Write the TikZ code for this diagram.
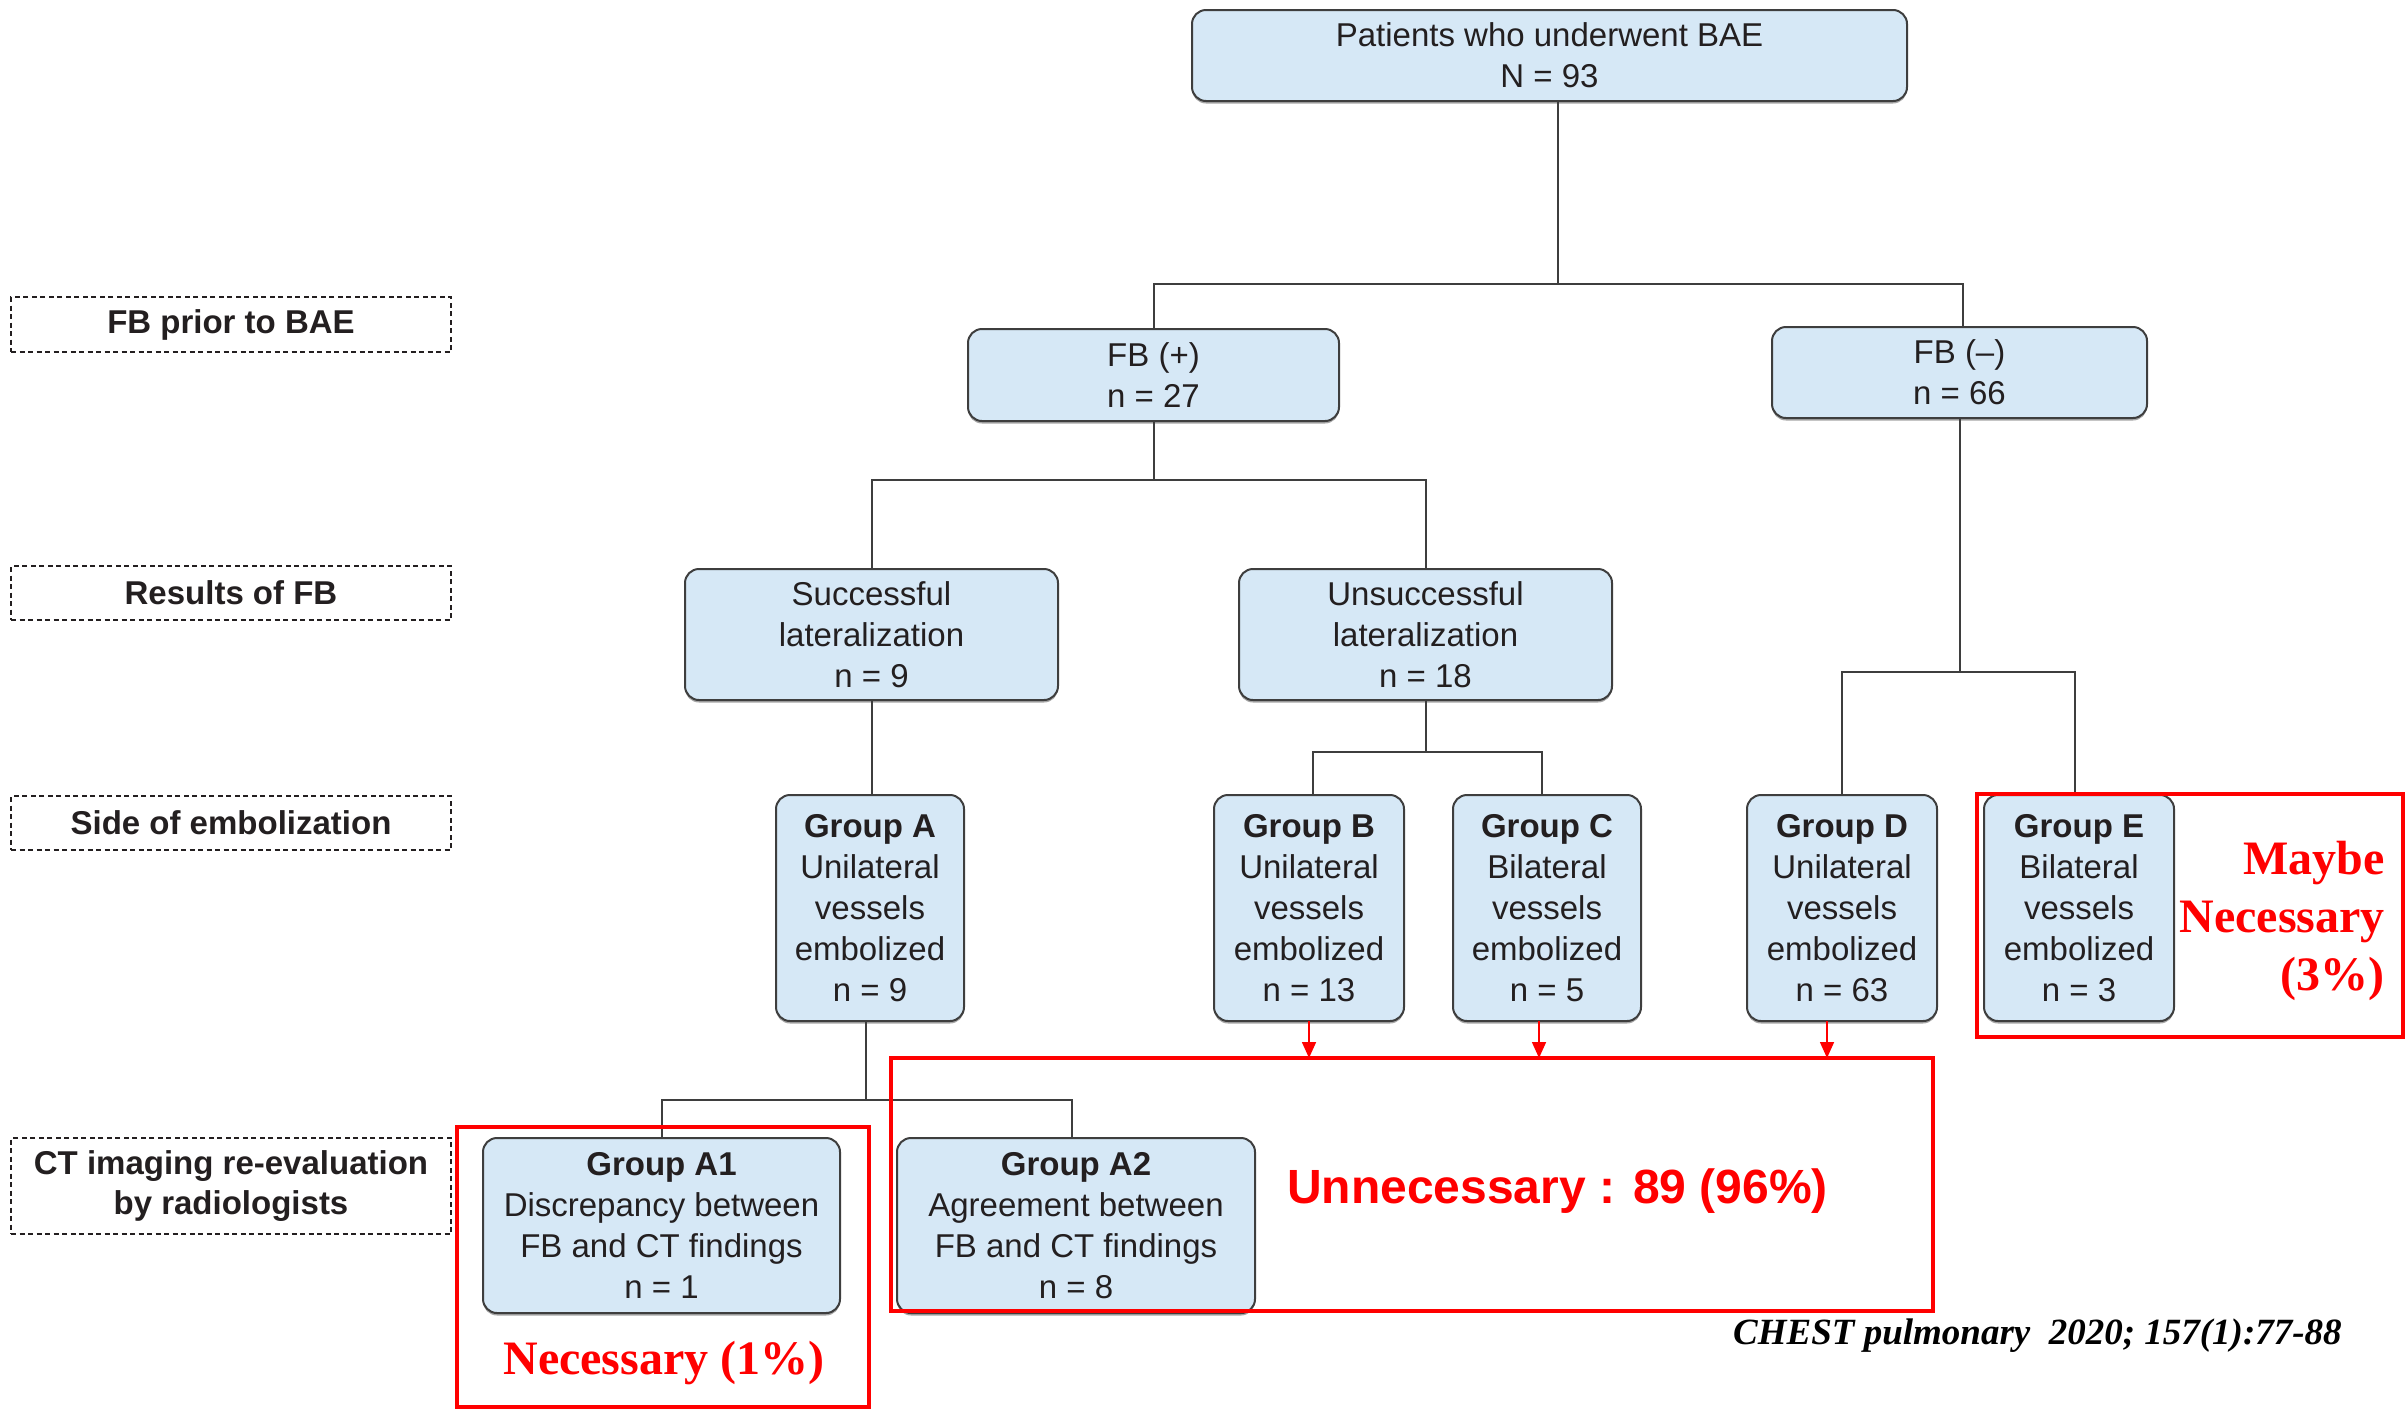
\documentclass[tikz,border=0pt]{standalone}
\usepackage{fontspec}
\setmainfont{Liberation Sans}
\newfontfamily\citefont{Liberation Serif}
\usetikzlibrary{arrows.meta,calc,shadows}

\definecolor{boxfill}{RGB}{214,232,246}
\definecolor{boxline}{RGB}{62,62,62}
\definecolor{inkdark}{RGB}{35,31,32}
\definecolor{alertred}{RGB}{255,0,0}

\tikzset{
  flowbox/.style={draw=boxline, line width=2pt, fill=boxfill, rounded corners=14pt,
    inner sep=0pt, outer sep=0pt, align=center, text=inkdark,
    font=\fontsize{33}{41}\selectfont,
    drop shadow={shadow xshift=0pt, shadow yshift=-2.5pt, opacity=0.35, fill=black}},
  stagelabel/.style={draw=inkdark, line width=1.5pt, dash pattern=on 5pt off 3.5pt,
    inner sep=0pt, outer sep=0pt, align=center, text=inkdark,
    font=\bfseries\fontsize{33}{40}\selectfont, minimum width=440},
  link/.style={draw=boxline, line width=2pt},
  alertbox/.style={draw=alertred, line width=3.5pt, inner sep=0pt, outer sep=0pt},
  alertarrow/.style={draw=alertred, line width=1.6pt, -{Triangle[length=16pt,width=14pt]}},
  alertserif/.style={text=alertred, inner sep=0pt, font=\citefont\bfseries\fontsize{48}{58}\selectfont},
}

\begin{document}
\begin{tikzpicture}[x=1pt, y=-1pt]
\useasboundingbox (0,0) rectangle (2405,1409);

% stage labels on the left
\node[stagelabel, minimum height=55] (lab1) at (231,324.5) {FB prior to BAE};
\node[stagelabel, minimum height=54] (lab2) at (231,593) {Results of FB};
\node[stagelabel, minimum height=54] (lab3) at (231,823) {Side of embolization};
\node[stagelabel, minimum height=96] (lab4) at (231,1186) {CT imaging re-evaluation\\by radiologists};

% flow boxes
\node[flowbox, minimum width=715, minimum height=91] (top) at (1549.5,55.5) {Patients who underwent BAE\\N = 93};
\node[flowbox, minimum width=371, minimum height=92] (fbp) at (1153.5,375) {FB (+)\\n = 27};
\node[flowbox, minimum width=375, minimum height=91] (fbm) at (1959.5,372.5) {FB (–)\\n = 66};
\node[flowbox, minimum width=373, minimum height=131] (succ) at (871.5,634.5) {Successful\\lateralization\\n = 9};
\node[flowbox, minimum width=373, minimum height=131] (unsucc) at (1425.5,634.5) {Unsuccessful\\lateralization\\n = 18};
\node[flowbox, minimum width=188, minimum height=226] (grpA) at (870,908) {\textbf{Group A}\\Unilateral\\vessels\\embolized\\n = 9};
\node[flowbox, minimum width=190, minimum height=226] (grpB) at (1309,908) {\textbf{Group B}\\Unilateral\\vessels\\embolized\\n = 13};
\node[flowbox, minimum width=188, minimum height=226] (grpC) at (1547,908) {\textbf{Group C}\\Bilateral\\vessels\\embolized\\n = 5};
\node[flowbox, minimum width=190, minimum height=226] (grpD) at (1842,908) {\textbf{Group D}\\Unilateral\\vessels\\embolized\\n = 63};
\node[flowbox, minimum width=190, minimum height=226] (grpE) at (2079,908) {\textbf{Group E}\\Bilateral\\vessels\\embolized\\n = 3};
\node[flowbox, minimum width=357, minimum height=175] (grpA1) at (661.5,1225.5) {\textbf{Group A1}\\Discrepancy between\\FB and CT findings\\n = 1};
\node[flowbox, minimum width=358, minimum height=175] (grpA2) at (1076,1225.5) {\textbf{Group A2}\\Agreement between\\FB and CT findings\\n = 8};

% junctions of the tree
\coordinate (j1) at (1558,284);
\path (fbp.south) ++(0,59) coordinate (j2);
\path (fbm.south) ++(0,254) coordinate (j3);
\path (unsucc.south) ++(0,52) coordinate (j4);
\path (grpA.south) ++(-4,79) coordinate (j5);

% entry points that sit slightly off the box centres
\path (fbm.north) ++(3,0) coordinate (fbmin);
\path (grpB.north) ++(4,0) coordinate (bin);
\path (grpC.north) ++(-5,0) coordinate (cin);
\path (grpE.north) ++(-4,0) coordinate (ein);
\path (grpA2.north) ++(-4,0) coordinate (a2in);
\path (grpA.south) ++(-4,0) coordinate (aout);

% connectors
\draw[link] (top.south -| j1) -- (j1);
\draw[link] (fbp.north) |- (j1) -| (fbmin);
\draw[link] (fbp.south) -- (j2);
\draw[link] (succ.north) |- (j2) -| (unsucc.north);
\draw[link] (succ.south) -- (succ.south |- grpA.north);
\draw[link] (unsucc.south) -- (j4);
\draw[link] (bin) |- (j4) -| (cin);
\draw[link] (fbm.south) -- (j3);
\draw[link] (grpD.north) |- (j3) -| (ein);
\draw[link] (aout) -- (j5);
\draw[link] (grpA1.north) |- (j5) -| (a2in);

% outcome frames
\node[alertbox, minimum width=412, minimum height=280] (necbox) at (663,1267) {};
\node[alertbox, minimum width=1042, minimum height=253] (unnecbox) at (1412,1184.5) {};
\node[alertbox, minimum width=426, minimum height=243] (maybebox) at (2190,915.5) {};

\path (grpD.south) ++(-15,0) coordinate (dout);
\draw[alertarrow] (grpB.south) -- (grpB.south |- unnecbox.north);
\draw[alertarrow] (grpC.south) ++(-8,0) coordinate (cout) -- (cout |- unnecbox.north);
\draw[alertarrow] (dout) -- (dout |- unnecbox.north);

% outcome texts
\node[text=alertred, inner sep=0pt, anchor=base west,
      font=\bfseries\fontsize{48}{56}\selectfont] (unnectext) at (1287,1203) {Unnecessary : 89 (96\%)};
\node[alertserif, anchor=base] (nectext) at (664,1374) {Necessary (1\%)};
\node[alertserif, anchor=east, align=right] (maybetext) at (2385,921) {Maybe\\Necessary\\(3\%)};

% source
\node[inner sep=0pt, anchor=base west, text=black,
      font=\citefont\bfseries\itshape\fontsize{37}{44}\selectfont] (source) at (1733,1344)
      {CHEST pulmonary~~2020; 157(1):77-88};
\end{tikzpicture}
\end{document}
